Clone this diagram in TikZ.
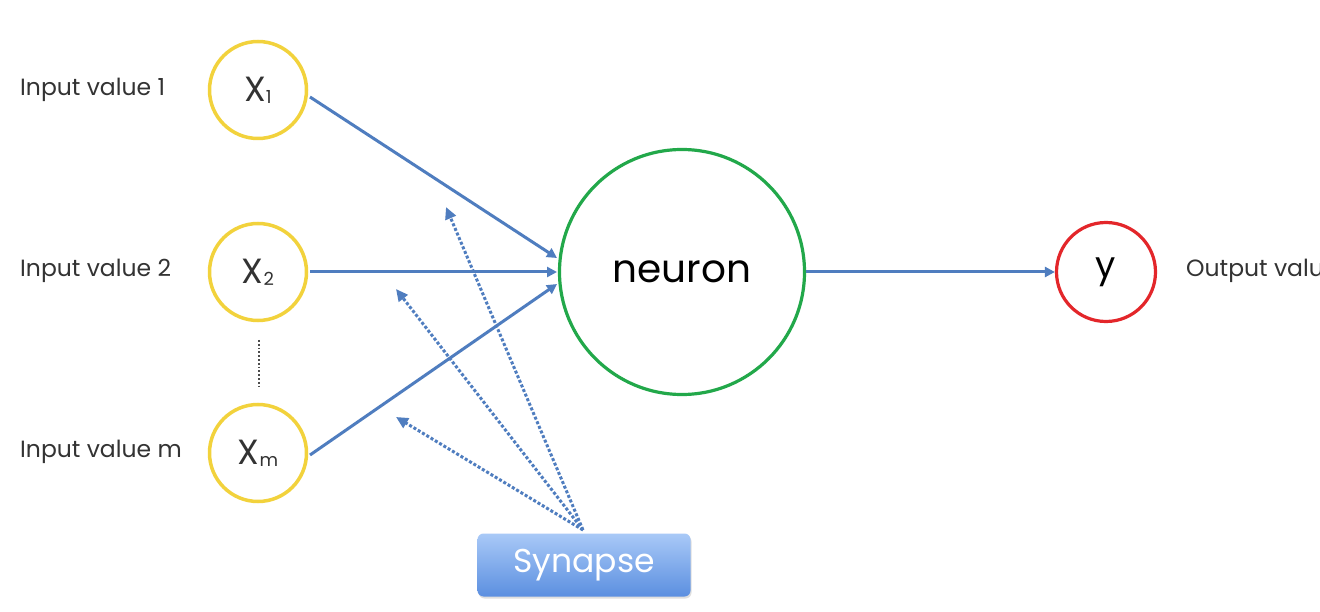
\documentclass[tikz,border=0pt]{standalone}
\usepackage{fontspec}
\setmainfont{Poppins}
\usetikzlibrary{arrows.meta,shadows}
\definecolor{inyellow}{HTML}{F2D23C}
\definecolor{neugreen}{HTML}{22A84A}
\definecolor{outred}{HTML}{E3262A}
\definecolor{arrblue}{HTML}{4F7DBF}
\definecolor{txtgray}{HTML}{333333}
\definecolor{syntop}{HTML}{A9C9F7}
\definecolor{synbot}{HTML}{5B8FE0}
\tikzset{
  inputc/.style={circle,draw=inyellow,line width=3.5pt,minimum size=97pt,inner sep=0pt,fill=white,font=\fontsize{35}{37}\selectfont,text=txtgray},
  neuc/.style={circle,draw=neugreen,line width=3.2pt,minimum size=245pt,inner sep=0pt,font=\fontsize{39}{41}\selectfont,text=black},
  outc/.style={circle,draw=outred,line width=3.2pt,minimum size=99pt,inner sep=0pt,font=\fontsize{36}{38}\selectfont,text=black},
  lbl/.style={anchor=west,inner sep=0pt,font=\fontsize{23.5}{25}\selectfont,text=txtgray},
  conn/.style={draw=arrblue,line width=3pt,-{Triangle[length=10pt,width=10pt]}},
  syn/.style={draw=arrblue,line width=3pt,dotted,-{Triangle[length=12pt,width=11pt]}},
  synbox/.style={rounded corners=6pt,minimum width=213pt,minimum height=63pt,top color=syntop,bottom color=synbot,draw=none,text=white,font=\fontsize{33}{35}\selectfont,drop shadow={opacity=0.25,shadow xshift=1pt,shadow yshift=-2pt}}
}
\newcommand{\sub}[1]{\raisebox{-2pt}{\fontsize{18}{20}\selectfont #1}}
\begin{document}
\begin{tikzpicture}[x=1pt,y=-1pt]
\useasboundingbox (0,0) rectangle (1320,612);
\fill[white] (0,0) rectangle (1320,612);
\node[inputc] (x1) at (258,90) {X\sub{1}};
\node[inputc] (x2) at (258,272) {X\sub{2}};
\node[inputc] (xm) at (258,453) {X\sub{m}};
\node[neuc] (neu) at (682,272) {neuron};
\node[outc] (y) at (1106,272) {y};
\node[lbl] (l1) at (20,90) {Input value 1};
\node[lbl] (l2) at (20,271) {Input value 2};
\node[lbl] (lm) at (20,452) {Input value m};
\node[lbl] (lo) at (1186,271) {Output value};
\node[synbox] (syn) at (584,565) {Synapse};
\coordinate (d1) at (259,340);
\coordinate (d2) at (259,387);
\draw[line width=1.8pt,dotted,black!70] (d1) -- (d2);
\coordinate (n1) at (557,258);
\coordinate (n2) at (557,272);
\coordinate (n3) at (557,284);
\coordinate (x1e) at (310,97);
\coordinate (x2e) at (310,272);
\coordinate (xme) at (310,455);
\draw[conn] (x1e) -- (n1);
\draw[conn] (x2e) -- (n2);
\draw[conn] (xme) -- (n3);
\draw[conn] (neu) -- (y);
\coordinate (s0) at (583,530);
\coordinate (t1) at (446,207);
\coordinate (t2) at (396,289);
\coordinate (t3) at (396,417);
\draw[syn] (s0) -- (t1);
\draw[syn] (s0) -- (t2);
\draw[syn] (s0) -- (t3);
\end{tikzpicture}
\end{document}
